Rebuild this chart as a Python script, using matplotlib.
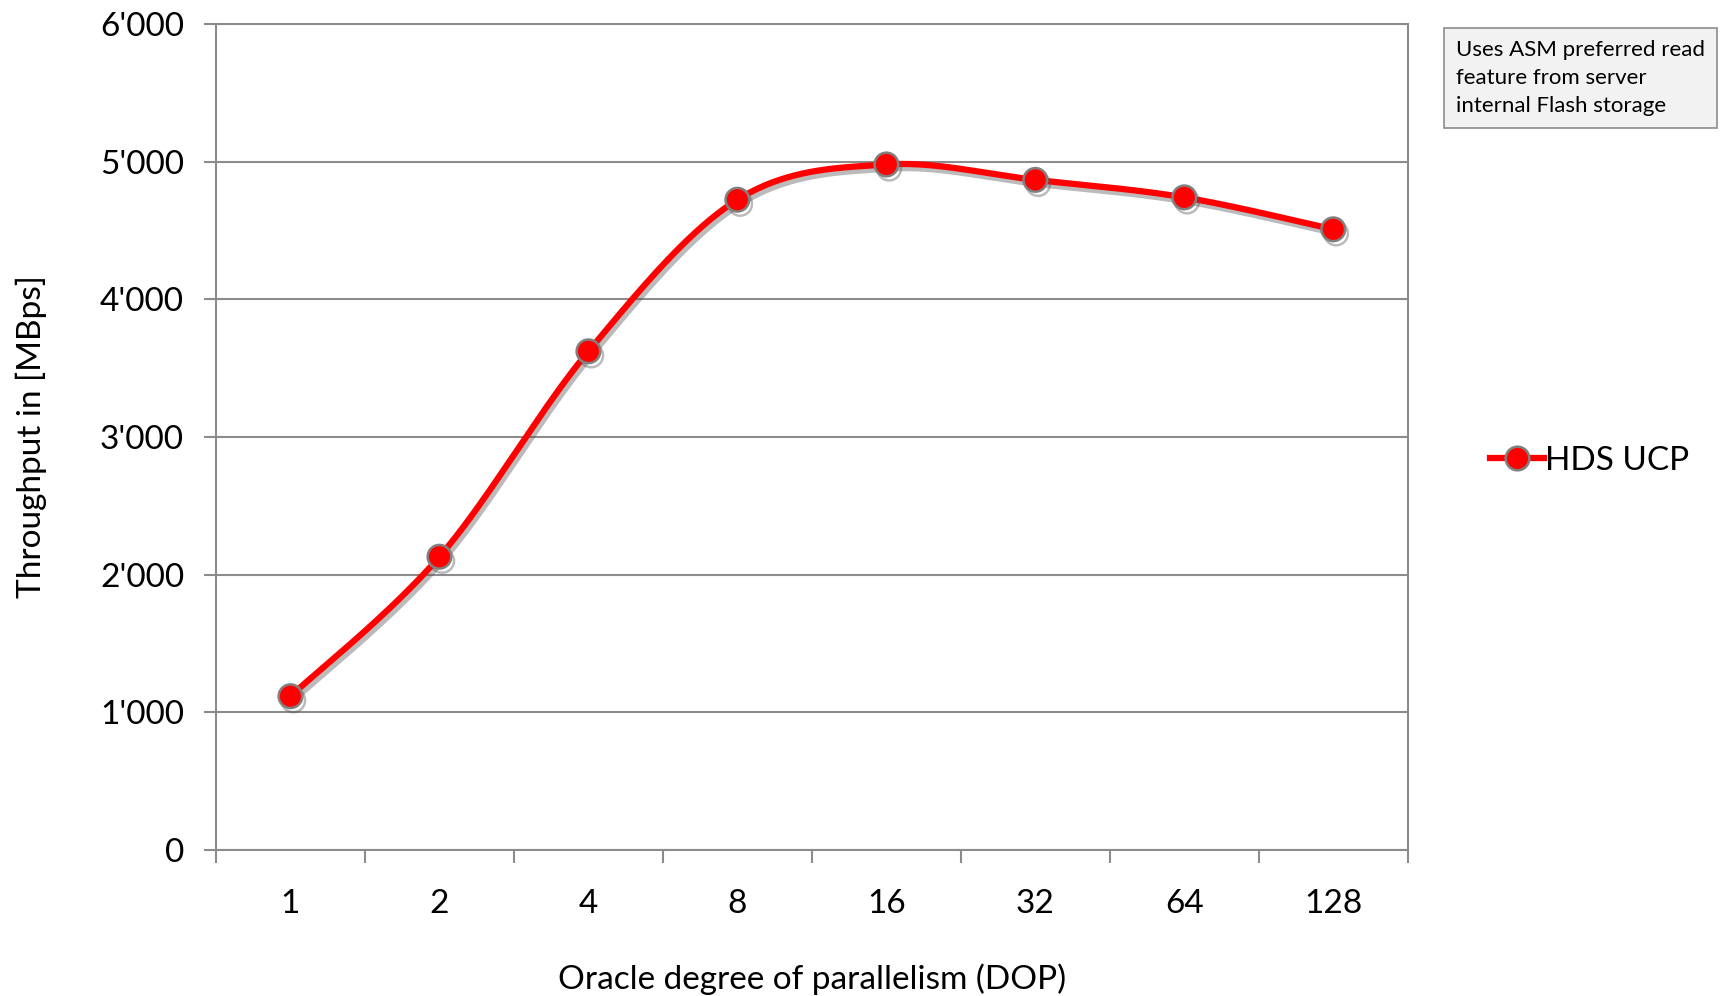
import numpy as np
import matplotlib.pyplot as plt
import matplotlib.patheffects as pe

categories = ["1", "2", "4", "8", "16", "32", "64", "128"]
throughput = [1117, 2130, 3622, 4723, 4979, 4867, 4740, 4508]
series_name = "HDS UCP"
y_ticks = [0, 1000, 2000, 3000, 4000, 5000, 6000]
y_tick_labels = ["0", "1'000", "2'000", "3'000", "4'000", "5'000", "6'000"]
note = "Uses ASM preferred read\nfeature from server\ninternal Flash storage"


def smooth_curve(x, y, steps=40):
    # Catmull-Rom style smoothing, like the spreadsheet's "smoothed line"
    x = np.asarray(x, float)
    y = np.asarray(y, float)
    px = np.concatenate([[x[0]], x, [x[-1]]])
    py = np.concatenate([[y[0]], y, [y[-1]]])
    xs, ys = [], []
    t = np.linspace(0, 1, steps)
    for i in range(1, len(px) - 2):
        p0 = np.array([px[i], py[i]])
        p3 = np.array([px[i + 1], py[i + 1]])
        p1 = p0 + (np.array([px[i + 1], py[i + 1]]) - np.array([px[i - 1], py[i - 1]])) / 6
        p2 = p3 - (np.array([px[i + 2], py[i + 2]]) - np.array([px[i], py[i]])) / 6
        b = ((1 - t) ** 3)[:, None] * p0 + (3 * (1 - t) ** 2 * t)[:, None] * p1 \
            + (3 * (1 - t) * t ** 2)[:, None] * p2 + (t ** 3)[:, None] * p3
        xs.extend(b[:, 0])
        ys.extend(b[:, 1])
    return np.array(xs), np.array(ys)


plt.rcParams["font.family"] = ["Lato", "DejaVu Sans"]

fig = plt.figure(figsize=(17.21, 9.96), dpi=100)
ax = fig.add_axes([0.1255, 0.1466, 0.6925, 0.8294])

grid_color = "#8c8c8c"
x = np.arange(len(categories))
sx, sy = smooth_curve(x, throughput)

shadow = [pe.SimpleLineShadow(offset=(2, -3), shadow_color="#555555", alpha=0.4), pe.Normal()]
ax.plot(sx, sy, color="#ff0000", lw=4.5, solid_capstyle="round", zorder=3, path_effects=shadow)
ax.plot(x, throughput, linestyle="none", marker="o", markersize=17, markerfacecolor="#ff0000",
        markeredgecolor="#808080", markeredgewidth=1.8, zorder=4, path_effects=shadow)

legend_handle, = ax.plot([], [], color="#ff0000", lw=4.5, marker="o", markersize=17,
                         markerfacecolor="#ff0000", markeredgecolor="#808080", markeredgewidth=1.8)
leg = fig.legend([legend_handle], [series_name], loc="center left", bbox_to_anchor=(0.866, 0.537),
                 frameon=False, fontsize=24, handlelength=1.6, handletextpad=0.05,
                 borderaxespad=0, borderpad=0)

ax.set_xlim(-0.5, len(categories) - 0.5)
ax.set_ylim(0, 6000)
ax.set_yticks(y_ticks)
ax.set_yticklabels(y_tick_labels)
ax.set_xticks(x)
ax.set_xticklabels(categories)
ax.set_xticks(np.arange(-0.5, len(categories), 1), minor=True)

ax.yaxis.grid(True, color=grid_color, lw=1.5)
ax.set_axisbelow(True)
for s in ax.spines.values():
    s.set_color(grid_color)
    s.set_linewidth(1.5)

ax.tick_params(axis="y", length=9, width=1.5, color=grid_color, labelsize=24, pad=14)
ax.tick_params(axis="x", which="major", length=0, labelsize=24, pad=28)
ax.tick_params(axis="x", which="minor", length=9, width=1.5, color=grid_color)

ax.set_ylabel("Throughput in [MBps]", fontsize=24, labelpad=38)
ax.set_xlabel("Oracle degree of parallelism (DOP)", fontsize=24, labelpad=32)

fig.text(0.846, 0.960, note, fontsize=16, va="top", ha="left", linespacing=1.5,
         bbox=dict(boxstyle="square,pad=0.55", facecolor="#f2f2f2", edgecolor="#8c8c8c", lw=1.2))

fig.savefig("out.png", dpi=100)
